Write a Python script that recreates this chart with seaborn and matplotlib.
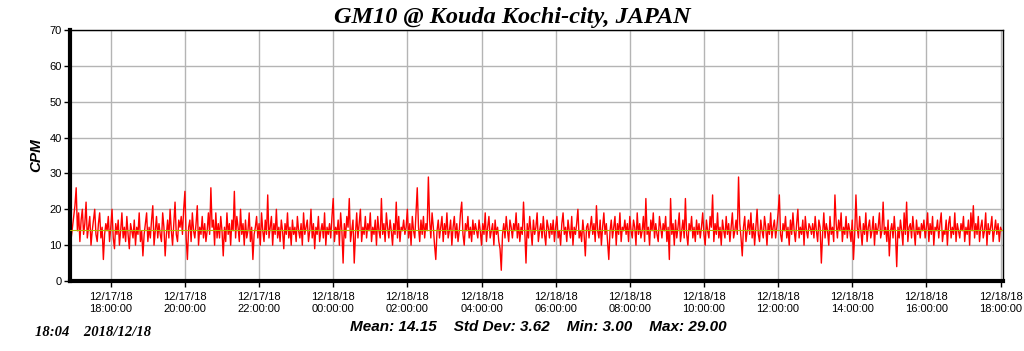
import pandas as pd
import matplotlib
matplotlib.use("Agg")
import matplotlib.pyplot as plt
import matplotlib.dates as mdates
import seaborn as sns

# CPM readings, one every 2 minutes, starting 12/17/18 16:54 (30 per row = 1 hour)
cpm = [
    7, 12, 15, 18, 21, 26, 14, 19, 11, 17, 20, 13, 16, 22, 12, 15, 18, 10, 14, 17, 20, 13, 11, 16, 19, 12, 15, 6, 13, 16,
    14, 18, 11, 15, 20, 12, 9, 16, 13, 17, 10, 14, 19, 12, 15, 11, 18, 13, 9, 16, 14, 12, 17, 10, 15, 13, 19, 11, 14, 7,
    13, 16, 19, 11, 15, 12, 17, 21, 10, 14, 18, 12, 16, 13, 11, 19, 15, 7, 13, 17, 12, 20, 14, 10, 16, 22, 13, 11, 17, 15,
    18, 13, 20, 25, 12, 6, 15, 17, 11, 19, 14, 12, 16, 21, 10, 15, 13, 18, 12, 16, 11, 14, 19, 13, 26, 15, 17, 10, 19, 12,
    16, 12, 18, 14, 7, 15, 11, 19, 13, 16, 10, 17, 14, 25, 12, 18, 15, 11, 20, 13, 16, 10, 17, 12, 14, 19, 11, 15, 6, 13,
    15, 18, 12, 16, 10, 19, 14, 11, 17, 13, 24, 12, 15, 18, 10, 16, 13, 20, 12, 15, 11, 17, 14, 9, 16, 13, 19, 12, 15, 10,
    17, 13, 15, 11, 18, 14, 12, 16, 10, 19, 13, 15, 17, 11, 14, 20, 12, 16, 9, 15, 13, 18, 11, 14, 16, 12, 19, 10, 15, 13,
    16, 12, 18, 23, 11, 15, 13, 17, 10, 19, 14, 5, 16, 12, 18, 15, 23, 11, 14, 17, 5, 13, 19, 12, 16, 20, 11, 15, 13, 18,
    12, 16, 14, 19, 11, 15, 13, 17, 10, 18, 14, 12, 23, 13, 16, 11, 19, 15, 12, 17, 14, 10, 16, 13, 22, 12, 18, 11, 15, 14,
    17, 13, 15, 20, 12, 16, 10, 18, 14, 12, 19, 26, 15, 11, 17, 13, 18, 12, 16, 14, 29, 17, 12, 19, 15, 10, 6, 14, 17, 12,
    15, 18, 11, 16, 13, 19, 12, 14, 17, 10, 15, 18, 12, 16, 11, 14, 19, 22, 13, 10, 16, 14, 18, 12, 15, 11, 17, 13, 16, 14,
    12, 17, 14, 10, 16, 13, 19, 11, 15, 18, 12, 14, 16, 10, 17, 13, 15, 11, 9, 3, 13, 16, 12, 18, 14, 11, 17, 15, 12, 16,
    14, 19, 12, 16, 11, 15, 13, 22, 14, 5, 16, 12, 18, 14, 10, 17, 13, 15, 19, 11, 14, 16, 12, 18, 13, 10, 17, 15, 12, 16,
    13, 17, 11, 15, 18, 12, 14, 10, 16, 19, 13, 15, 11, 17, 14, 12, 18, 10, 15, 13, 16, 20, 12, 14, 11, 17, 13, 7, 15, 16,
    12, 15, 18, 13, 16, 11, 21, 14, 12, 17, 10, 15, 19, 13, 16, 11, 6, 14, 17, 12, 15, 18, 10, 16, 13, 19, 11, 15, 14, 17,
    13, 16, 11, 18, 14, 12, 17, 15, 10, 19, 13, 16, 12, 14, 18, 11, 23, 13, 15, 10, 17, 14, 19, 12, 16, 13, 11, 18, 15, 12,
    16, 14, 18, 11, 15, 6, 23, 13, 16, 10, 17, 12, 15, 19, 11, 14, 17, 12, 23, 13, 10, 16, 14, 18, 12, 15, 11, 17, 13, 16,
    12, 15, 19, 13, 10, 17, 14, 12, 18, 15, 24, 11, 16, 13, 19, 12, 15, 10, 17, 14, 12, 18, 13, 16, 11, 15, 19, 12, 14, 17,
    13, 29, 16, 12, 7, 15, 18, 11, 14, 17, 13, 19, 12, 16, 10, 15, 20, 13, 11, 17, 14, 12, 18, 15, 10, 16, 13, 19, 12, 15,
    17, 12, 15, 19, 24, 13, 11, 16, 14, 18, 12, 15, 10, 17, 13, 19, 14, 11, 16, 20, 12, 15, 13, 17, 10, 18, 14, 12, 16, 15,
    13, 16, 12, 18, 14, 11, 17, 15, 5, 13, 19, 12, 16, 14, 10, 18, 13, 15, 11, 24, 16, 12, 17, 14, 19, 11, 15, 13, 18, 12,
    16, 14, 11, 17, 6, 13, 24, 15, 12, 18, 14, 10, 16, 13, 19, 11, 15, 17, 12, 14, 18, 10, 16, 13, 15, 19, 12, 14, 22, 13,
    15, 11, 17, 7, 14, 16, 12, 18, 13, 4, 15, 12, 17, 14, 10, 19, 13, 22, 11, 15, 16, 12, 18, 14, 10, 17, 13, 15, 12, 16,
    14, 17, 12, 15, 19, 11, 16, 13, 18, 10, 15, 14, 17, 12, 16, 19, 11, 14, 13, 17, 10, 16, 18, 12, 15, 13, 19, 11, 16, 14,
    12, 16, 14, 18, 11, 15, 13, 17, 10, 19, 14, 21, 12, 16, 13, 18, 11, 15, 17, 12, 14, 19, 10, 16, 13, 15, 18, 11, 14, 17,
    13, 16, 11, 15, 14,
]
start_time = "2018-12-17 16:54"
end_time = "2018-12-18 18:04"
step = "2min"

title = "GM10 @ Kouda Kochi-city, JAPAN"
ylabel = "CPM"
stats_text = "Mean: 14.15    Std Dev: 3.62    Min: 3.00    Max: 29.00"
mean_value = 14.15
stamp_text = "18:04    2018/12/18"

times = pd.date_range(start_time, periods=len(cpm), freq=step)
df = pd.DataFrame({"time": times, "cpm": cpm})

sns.set_style("white")
plt.rcParams["font.family"] = ["Liberation Sans", "DejaVu Sans"]
plt.rcParams["text.color"] = "black"
plt.rcParams["axes.labelcolor"] = "black"

fig = plt.figure(figsize=(10.24, 3.51), dpi=100)
ax = fig.add_axes([70 / 1024, 1 - 281 / 351, 933 / 1024, 251 / 351])

sns.lineplot(data=df, x="time", y="cpm", ax=ax, color="#ff0000", linewidth=1)
ax.axhline(mean_value, color="#b4b400", linewidth=0.8, zorder=3)

ax.set_ylim(0, 70)
ax.set_yticks(range(0, 71, 10))
ax.set_xlim(pd.Timestamp(start_time), pd.Timestamp(end_time))
ax.xaxis.set_major_locator(mdates.HourLocator(byhour=range(0, 24, 2)))
ax.xaxis.set_major_formatter(mdates.DateFormatter("%m/%d/%y\n%H:%M:%S"))

ax.grid(True, color="#b4b4b4", linewidth=1)
ax.set_axisbelow(True)
ax.tick_params(axis="both", labelsize=8, colors="black", labelcolor="black",
               length=4, width=1, direction="out", left=True, bottom=True, pad=2)
ax.tick_params(axis="x", pad=4)

for side in ["top", "right"]:
    ax.spines[side].set_linewidth(1)
    ax.spines[side].set_color("black")
for side in ["left", "bottom"]:
    ax.spines[side].set_linewidth(3)
    ax.spines[side].set_color("black")

ax.set_xlabel("")
ax.set_ylabel(ylabel, fontsize=11, fontweight="bold", style="italic", labelpad=4)

fig.text(0.5, 1 - 17 / 351, title, ha="center", va="center", fontsize=17.5,
         fontweight="bold", style="italic", family=["Liberation Serif", "DejaVu Serif"])
fig.text(538 / 1024, 1 - 327 / 351, stats_text, ha="center", va="center",
         fontsize=11, fontweight="bold", style="italic")
fig.text(35 / 1024, 1 - 332 / 351, stamp_text, ha="left", va="center", fontsize=10.5,
         fontweight="bold", style="italic", family=["Liberation Serif", "DejaVu Serif"])

fig.savefig("out.png", dpi=100)
